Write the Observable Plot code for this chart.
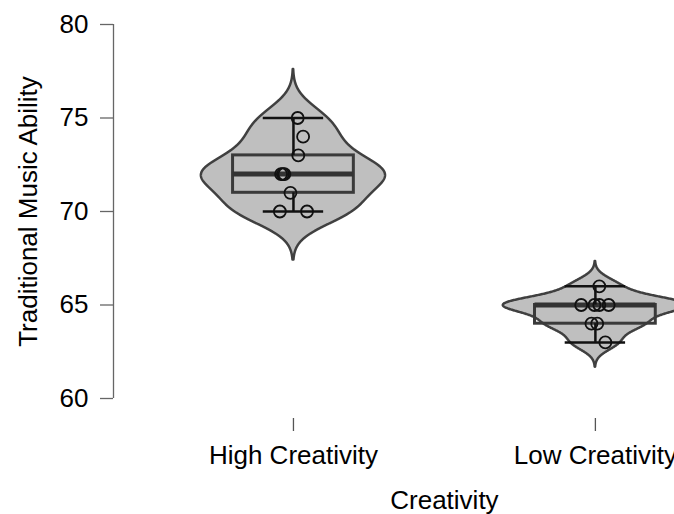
<!DOCTYPE html>
<html>
<head>
<meta charset="utf-8">
<script src="https://cdn.jsdelivr.net/npm/d3@7"></script>
<script src="https://cdn.jsdelivr.net/npm/@observablehq/plot@0.6"></script>
<style>
  html, body { margin: 0; padding: 0; background: white; overflow: hidden; }
</style>
</head>
<body>
<div id="chart"></div>
<script>
// ---- data ----
const categories = ["High Creativity", "Low Creativity"];
const highValues = [75, 74, 73, 72, 72, 72, 71, 70, 70];
const highJitter = [0.014, 0.032, 0.016, -0.041, -0.035, -0.030, -0.010, -0.045, 0.045];
const lowValues = [66, 65, 65, 65, 65, 64, 64, 63];
const lowJitter = [0.013, -0.047, -0.003, 0.013, 0.044, -0.013, 0.006, 0.033];
const yTicks = [60, 65, 70, 75, 80];
const xTitle = "Creativity";
const yTitle = "Traditional Music Ability";

// ---- layout settings ----
const xDomain = [0.404, 2.262];
const violinHalf = 0.305;
const boxHalf = 0.2;
const capHalf = 0.1;

const groups = [
  {name: categories[0], pos: 1, values: highValues, jitter: highJitter},
  {name: categories[1], pos: 2, values: lowValues, jitter: lowJitter}
];

// statistics
function nrd0(v) {
  const sd = d3.deviation(v);
  const iqr = d3.quantile(v, 0.75) - d3.quantile(v, 0.25);
  const lo = Math.min(sd, iqr / 1.34);
  return 0.9 * lo * Math.pow(v.length, -0.2);
}
const stats = groups.map(g => {
  const v = g.values.slice().sort(d3.ascending);
  const q1 = d3.quantile(v, 0.25), q3 = d3.quantile(v, 0.75), med = d3.quantile(v, 0.5);
  const iqr = q3 - q1;
  const max = d3.max(v.filter(d => d <= q3 + 1.5 * iqr));
  const min = d3.min(v.filter(d => d >= q1 - 1.5 * iqr));
  return {name: g.name, pos: g.pos, q1, q3, med, min, max};
});

// violin outlines (gaussian kde, nrd0 bandwidth, cut = 3)
const violin = [];
groups.forEach(g => {
  const bw = nrd0(g.values);
  const lo = d3.min(g.values) - 3 * bw, hi = d3.max(g.values) + 3 * bw;
  const n = 512;
  const pts = [];
  for (let i = 0; i < n; i++) {
    const y = lo + (hi - lo) * i / (n - 1);
    let s = 0;
    for (const x of g.values) {
      const z = (y - x) / bw;
      s += Math.exp(-0.5 * z * z);
    }
    pts.push({y, d: s / (g.values.length * bw * Math.sqrt(2 * Math.PI))});
  }
  const m = d3.max(pts, p => p.d);
  pts.forEach(p => violin.push({g: g.name, y: p.y, x1: g.pos - violinHalf * p.d / m, x2: g.pos + violinHalf * p.d / m}));
});

const points = [];
groups.forEach(g => g.values.forEach((v, i) => points.push({g: g.name, x: g.pos + g.jitter[i], y: v})));

const chart = Plot.plot({
  width: 674,
  height: 514,
  marginLeft: 113,
  marginRight: 0,
  marginTop: 24,
  marginBottom: 96,
  x: {domain: xDomain},
  y: {domain: [yTicks[0], yTicks[yTicks.length - 1]], insetBottom: 20},
  style: {fontFamily: "'Liberation Sans', Arial, sans-serif", fontSize: "26px", background: "white", color: "black", overflow: "visible"},
  marks: [
    Plot.ruleX([xDomain[0]], {y1: yTicks[0], y2: yTicks[yTicks.length - 1], stroke: "#666", strokeWidth: 1.3}),
    Plot.axisY({ticks: yTicks, tickSize: 13, tickPadding: 12, fontSize: 26, stroke: "#666", strokeWidth: 1.3, label: null}),
    Plot.axisX({ticks: [1, 2], tickFormat: i => categories[i - 1], tickSize: 13, tickPadding: 14, fontSize: 26, stroke: "#555", strokeWidth: 1.3, label: null}),
    Plot.areaX(violin, {y: "y", x1: "x1", x2: "x2", z: "g", fill: "#bfbfbf", stroke: "#404040", strokeWidth: 2.5, curve: "linear"}),
    Plot.rect(stats, {x1: d => d.pos - boxHalf, x2: d => d.pos + boxHalf, y1: "q1", y2: "q3", fill: "none", stroke: "#3a3a3a", strokeWidth: 3}),
    Plot.ruleY(stats, {y: "med", x1: d => d.pos - boxHalf, x2: d => d.pos + boxHalf, stroke: "#333", strokeWidth: 5}),
    Plot.ruleX(stats, {x: "pos", y1: "q3", y2: "max", stroke: "#111", strokeWidth: 2.5}),
    Plot.ruleX(stats, {x: "pos", y1: "min", y2: "q1", stroke: "#111", strokeWidth: 2.5}),
    Plot.ruleY(stats, {y: "max", x1: d => d.pos - capHalf, x2: d => d.pos + capHalf, stroke: "#111", strokeWidth: 2.5}),
    Plot.ruleY(stats, {y: "min", x1: d => d.pos - capHalf, x2: d => d.pos + capHalf, stroke: "#111", strokeWidth: 2.5}),
    Plot.dot(points, {x: "x", y: "y", r: 6, fill: "none", stroke: "#111", strokeWidth: 1.8}),
    Plot.text([xTitle], {x: 1.5, frameAnchor: "bottom", dy: 90, lineAnchor: "bottom", fontSize: 26, fill: "black"}),
    Plot.text([yTitle], {y: 70, frameAnchor: "left", textAnchor: "middle", dx: -85, rotate: -90, fontSize: 26, fill: "black"})
  ]
});
document.getElementById("chart").appendChild(chart);
</script>
</body>
</html>
